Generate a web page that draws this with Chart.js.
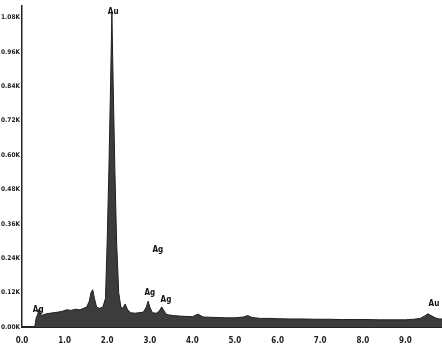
<!DOCTYPE html>
<html>
<head>
<meta charset="utf-8">
<script src="https://cdn.jsdelivr.net/npm/chart.js@4/dist/chart.umd.min.js"></script>
<style>
  html, body { margin: 0; padding: 0; background: #fff; }
  #wrap { width: 442px; height: 347px; }
</style>
</head>
<body>
<div id="wrap"><canvas id="eds"></canvas></div>
<script>
'use strict';

// energy (keV) and counts (K)
const energy = [0.30, 0.33, 0.37, 0.40, 0.45, 0.55, 0.65, 0.75, 0.85, 0.95, 1.05, 1.15, 1.25, 1.35, 1.45,
  1.52, 1.58, 1.62, 1.66, 1.70, 1.75, 1.82, 1.90, 1.96, 2.00, 2.04, 2.08, 2.11, 2.14, 2.18, 2.22, 2.27,
  2.32, 2.37, 2.42, 2.48, 2.55, 2.65, 2.75, 2.85, 2.92, 2.96, 3.00, 3.06, 3.15, 3.22, 3.28, 3.32, 3.38,
  3.45, 3.55, 3.70, 3.85, 4.00, 4.13, 4.25, 4.40, 4.60, 4.80, 5.00, 5.20, 5.30, 5.40, 5.60, 5.80, 6.00,
  6.30, 6.60, 6.90, 7.20, 7.50, 7.80, 8.10, 8.40, 8.70, 9.00, 9.20, 9.35, 9.45, 9.53, 9.60, 9.70, 9.80, 9.86];
const counts = [0.000, 0.030, 0.045, 0.062, 0.040, 0.045, 0.048, 0.050, 0.052, 0.055, 0.060, 0.058, 0.062, 0.060, 0.065,
  0.070, 0.090, 0.120, 0.130, 0.100, 0.070, 0.065, 0.070, 0.100, 0.300, 0.550, 0.850, 1.100, 0.850, 0.550, 0.300, 0.120,
  0.070, 0.065, 0.080, 0.060, 0.050, 0.048, 0.050, 0.052, 0.070, 0.090, 0.070, 0.050, 0.048, 0.055, 0.070, 0.060, 0.045,
  0.042, 0.040, 0.038, 0.037, 0.036, 0.045, 0.035, 0.034, 0.033, 0.032, 0.032, 0.035, 0.040, 0.033, 0.030, 0.030, 0.029,
  0.028, 0.028, 0.027, 0.027, 0.026, 0.026, 0.026, 0.025, 0.025, 0.025, 0.027, 0.030, 0.038, 0.046, 0.040, 0.032, 0.028, 0.028];

const xTicks = [0, 1, 2, 3, 4, 5, 6, 7, 8, 9];
const yTicks = [0, 0.12, 0.24, 0.36, 0.48, 0.60, 0.72, 0.84, 0.96, 1.08];

// peak labels: text, energy, counts
const peakText = ['Au', 'Ag', 'Ag', 'Ag', 'Ag', 'Au'];
const peakX = [2.14, 3.19, 3.00, 3.38, 0.38, 9.67];
const peakY = [1.10, 0.27, 0.12, 0.093, 0.058, 0.082];

const FONT = "'Liberation Sans Narrow', 'DejaVu Sans Condensed', sans-serif";

// draw element labels at their data positions
const peakLabels = {
  id: 'peakLabels',
  afterDatasetsDraw(chart) {
    const ctx = chart.ctx;
    const xs = chart.scales.x, ys = chart.scales.y;
    ctx.save();
    ctx.font = 'bold 8px ' + FONT;
    ctx.fillStyle = '#111';
    ctx.textAlign = 'center';
    ctx.textBaseline = 'middle';
    peakText.forEach((t, i) => {
      ctx.fillText(t, xs.getPixelForValue(peakX[i]), ys.getPixelForValue(peakY[i]));
    });
    ctx.restore();
  }
};

new Chart(document.getElementById('eds'), {
  type: 'line',
  data: {
    datasets: [{
      data: energy.map((e, i) => ({ x: e, y: counts[i] })),
      borderColor: '#1e1e1e',
      backgroundColor: '#3c3c3c',
      borderWidth: 1,
      pointRadius: 0,
      tension: 0,
      fill: 'origin'
    }]
  },
  options: {
    responsive: true,
    maintainAspectRatio: false,
    animation: false,
    layout: { padding: { top: 6, right: 0, left: 0, bottom: 0 } },
    scales: {
      x: {
        type: 'linear',
        min: 0,
        max: 9.86,
        grid: { display: false, drawTicks: true, tickLength: 2, color: '#222' },
        border: { display: true, color: '#222', width: 2 },
        afterBuildTicks: (axis) => { axis.ticks = xTicks.map(v => ({ value: v })); },
        afterFit: (axis) => { axis.height = 20; },
        ticks: {
          autoSkip: false,
          maxRotation: 0,
          padding: 7,
          color: '#222',
          font: { family: FONT, size: 8, weight: 'bold' },
          callback: (v) => v.toFixed(1)
        }
      },
      y: {
        min: 0,
        max: 1.12,
        grid: { display: false, drawTicks: true, tickLength: 1, color: '#222' },
        border: { display: true, color: '#222', width: 1.5 },
        afterBuildTicks: (axis) => { axis.ticks = yTicks.map(v => ({ value: v })); },
        afterFit: (axis) => { axis.width = 22; },
        ticks: {
          autoSkip: false,
          padding: 1,
          color: '#222',
          font: { family: FONT, size: 6.5, weight: 'bold' },
          callback: (v) => v.toFixed(2) + 'K'
        }
      }
    },
    plugins: {
      legend: { display: false },
      tooltip: { enabled: false },
      title: { display: false }
    }
  },
  plugins: [peakLabels]
});
</script>
</body>
</html>
